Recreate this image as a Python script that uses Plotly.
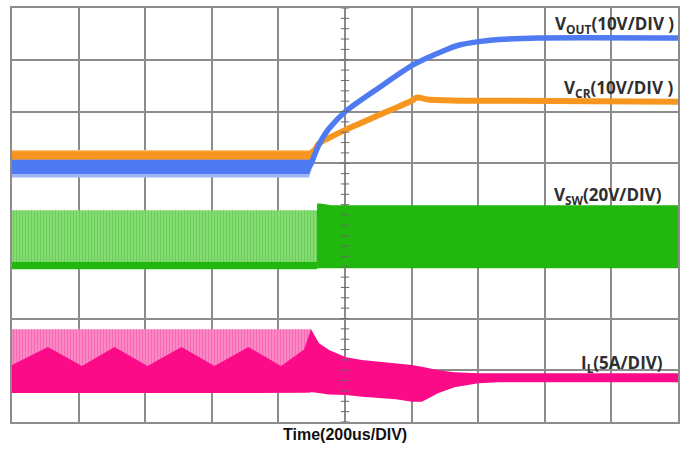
import numpy as np
import plotly.graph_objects as go

# Scope screen: 10 horizontal divisions of 200 us, 8 vertical divisions (centre = 0)
T_DIV_US = 200
N_XDIV, N_YDIV = 10, 8

# ---- V_OUT (10 V/div): trace centre and ripple half-width, in divisions ----
vout_t = [0, 892, 898, 916, 931, 952, 1003, 1102, 1204, 1302, 1341, 1401, 1461, 1581, 2000]
vout_y = [0.93, 0.93, 0.99, 1.28, 1.47, 1.67, 2.01, 2.46, 2.90, 3.19, 3.28, 3.35, 3.39, 3.42, 3.42]
vout_hw = [0.14, 0.14, 0.10, 0.03, 0.0, 0.0, 0.0, 0.0, 0.0, 0.0, 0.0, 0.0, 0.0, 0.0, 0.0]

# ---- V_CR (10 V/div) ----
vcr_t = [0, 892, 922, 952, 1003, 1102, 1201, 1216, 1251, 1341, 2000]
vcr_y = [1.13, 1.13, 1.38, 1.49, 1.65, 1.93, 2.21, 2.27, 2.23, 2.21, 2.19]
vcr_hw = [0.10, 0.10, 0.0, 0.0, 0.0, 0.0, 0.0, 0.0, 0.0, 0.0, 0.0]

# ---- V_SW (20 V/div): burst-mode switching, then continuous switching ----
vsw_burst_t = [0, 916]
vsw_burst_hi = [0.09, 0.09]
vsw_burst_lo = [-0.92, -0.92]
vsw_floor_hi = [-0.91, -0.91]
vsw_floor_lo = [-1.05, -1.05]
vsw_cont_t = [916, 925, 960, 2000]
vsw_cont_hi = [0.22, 0.22, 0.19, 0.19]
vsw_cont_lo = [-1.03, -1.03, -1.03, -1.03]

# ---- I_L (5 A/div) ----
il_burst_t = [0, 898]
il_burst_hi = [-2.21, -2.21]
il_burst_lo = [-3.44, -3.44]
il_t = [0, 108, 210, 308, 407, 509, 608, 710, 808, 877, 898, 922, 952, 1003,
        1051, 1153, 1201, 1231, 1281, 1329, 1401, 1461, 2000]
il_hi = [-2.90, -2.55, -2.92, -2.55, -2.92, -2.55, -2.92, -2.55, -2.92, -2.60, -2.21,
         -2.48, -2.61, -2.75, -2.80, -2.86, -2.90, -2.93, -3.00, -3.04, -3.06, -3.06, -3.06]
il_lo = [-3.44, -3.44, -3.44, -3.44, -3.44, -3.44, -3.44, -3.44, -3.44, -3.43, -3.42,
         -3.45, -3.47, -3.48, -3.51, -3.56, -3.61, -3.61, -3.44, -3.33, -3.25, -3.23, -3.23]

# Channel labels and the time-base caption
labels = ["V<sub>OUT</sub>(10V/DIV )", "V<sub>CR</sub>(10V/DIV )",
          "V<sub>SW</sub>(20V/DIV)", "I<sub>L</sub>(5A/DIV)"]
time_caption = "Time(200us/DIV)"

BLUE = "#4f7af2"
ORANGE = "#f7961e"
GREEN = "#22b70f"
PINK = "#fb0b88"
GRID = "#8c8c8c"


def band(t, upper, lower, color, pattern=None):
    t = list(t)
    kw = dict(fillcolor=color)
    if pattern is not None:
        kw["fillpattern"] = pattern
    return go.Scatter(x=t + t[::-1], y=list(upper) + list(lower)[::-1],
                      mode="lines", line=dict(width=0), fill="toself",
                      hoverinfo="skip", showlegend=False, **kw)


def line(t, y, color, width):
    return go.Scatter(x=t, y=y, mode="lines",
                      line=dict(color=color, width=width, shape="spline", smoothing=0.6),
                      hoverinfo="skip", showlegend=False)


fig = go.Figure()

# switch node voltage
fig.add_trace(band(vsw_burst_t, vsw_burst_hi, vsw_burst_lo, "#93dc80",
                   dict(shape="|", size=3, solidity=0.6, fgcolor="#2fbd1c",
                        bgcolor="#9be28a")))
fig.add_trace(band(vsw_burst_t, vsw_floor_hi, vsw_floor_lo, GREEN))
fig.add_trace(band(vsw_cont_t, vsw_cont_hi, vsw_cont_lo, GREEN))

# inductor current
fig.add_trace(band(il_burst_t, il_burst_hi, il_burst_lo, "#f87cbe",
                   dict(shape="|", size=3, solidity=0.65, fgcolor="#f82a96",
                        bgcolor="#fba6d3")))
fig.add_trace(band(il_t, il_hi, il_lo, PINK))

# V_CR and V_OUT, with a paler noise fringe around the ripple bands
vcr_y_a, vcr_hw_a = np.array(vcr_y), np.array(vcr_hw)
fig.add_trace(band(vcr_t, vcr_y_a + vcr_hw_a * 1.25, vcr_y_a - vcr_hw_a, "#fbc47e"))
fig.add_trace(band(vcr_t, vcr_y_a + vcr_hw_a, vcr_y_a - vcr_hw_a, ORANGE))
fig.add_trace(line(vcr_t, vcr_y, ORANGE, 6))
vout_y_a, vout_hw_a = np.array(vout_y), np.array(vout_hw)
fig.add_trace(band(vout_t, vout_y_a + vout_hw_a, vout_y_a - vout_hw_a * 1.45, "#9fb5f6"))
fig.add_trace(band(vout_t, vout_y_a + vout_hw_a, vout_y_a - vout_hw_a, BLUE))
fig.add_trace(line(vout_t, vout_y, BLUE, 5.5))

# minor graticule ticks on the vertical centre line
t_end = T_DIV_US * N_XDIV
minor_y = np.arange(-N_YDIV / 2, N_YDIV / 2 + 1e-9, 0.2)
fig.add_trace(go.Scatter(x=[t_end / 2] * len(minor_y), y=minor_y, mode="markers",
                         marker=dict(symbol="line-ew", size=6,
                                     line=dict(color="#6a6a6a", width=1)),
                         hoverinfo="skip", showlegend=False))

label_y = [3.68, 2.45, 0.37, -2.87]
label_x = [1994, 1991, 1958, 1961]
for txt, lx, ly in zip(labels, label_x, label_y):
    fig.add_annotation(x=lx, y=ly, xref="x", yref="y", text=txt, showarrow=False,
                       xanchor="right", yanchor="middle",
                       font=dict(family="Open Sans, sans-serif", size=17, color="#2e2e2e",
                                 weight="bold"))

fig.add_annotation(x=0.5, y=-0.031, xref="paper", yref="paper", text=time_caption,
                   showarrow=False, xanchor="center", yanchor="middle",
                   font=dict(family="Liberation Sans, Arial, sans-serif", size=16,
                             color="#111111", weight="bold"))

axis_common = dict(showgrid=True, gridcolor=GRID, gridwidth=1.5, zeroline=False,
                   showticklabels=False, ticks="", showline=True, linecolor=GRID,
                   linewidth=1.5, mirror=True, fixedrange=True)
fig.update_xaxes(range=[0, t_end], dtick=T_DIV_US, tick0=0, **axis_common)
fig.update_yaxes(range=[-N_YDIV / 2, N_YDIV / 2], dtick=1, tick0=0, **axis_common)

fig.update_layout(width=686, height=453, autosize=False,
                  margin=dict(l=12, r=6, t=7, b=31),
                  paper_bgcolor="white", plot_bgcolor="white")

fig.write_html("out.html")
